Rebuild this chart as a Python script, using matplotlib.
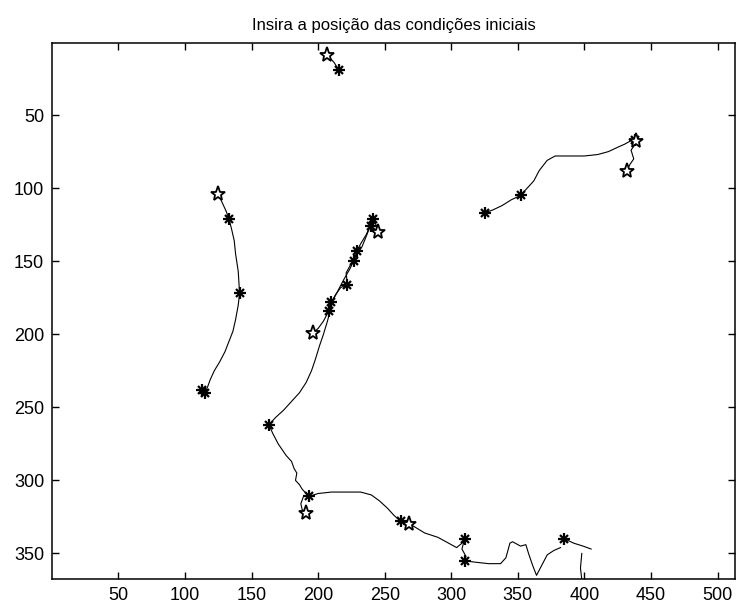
import matplotlib.pyplot as plt

# trajectories traced on the 512x368 frame (x = column, y = row)
top_x = [207, 209, 212, 214, 216]
top_y = [9, 11, 14, 17, 19]

right_x = [325, 331, 338, 345, 352, 357, 362, 366, 372, 378, 390, 400, 410,
           418, 425, 430, 434, 437, 441, 438, 435, 437, 434, 432]
right_y = [117, 115, 112, 108, 105, 100, 95, 88, 81, 78, 78, 78, 77,
           75, 72, 70, 68, 66, 67, 70, 74, 80, 84, 88]

left_x = [125, 128, 131, 133, 135, 137, 138, 140, 141, 140, 138, 136, 133,
          130, 126, 122, 119, 117, 115, 113]
left_y = [104, 110, 116, 121, 128, 136, 145, 157, 172, 180, 190, 198, 205,
          212, 219, 225, 231, 236, 240, 238]

upper_x = [196, 200, 204, 208, 210, 213, 217, 222, 221, 224, 227, 229, 232,
           236, 239, 240, 241, 243, 245]
upper_y = [199, 196, 191, 184, 178, 173, 168, 166, 158, 153, 150, 143, 138,
           132, 126, 122, 119, 124, 130]

lower_x = [240, 237, 233, 228, 224, 219, 215, 211, 209, 207, 204, 201, 198,
           195, 191, 186, 180, 174, 168, 163, 166, 170, 176, 180, 182, 184,
           183, 186, 188, 193, 189, 187, 188, 191]
lower_y = [124, 131, 140, 147, 155, 163, 170, 177, 184, 191, 200, 208, 217,
           225, 233, 240, 246, 252, 257, 262, 268, 275, 283, 287, 292, 295,
           300, 303, 306, 311, 311, 316, 320, 322]

bottom_x = [193, 200, 210, 220, 232, 240, 246, 252, 257, 262, 266, 268, 271,
            280, 290, 298, 304, 308, 310, 308, 311, 310, 318, 328, 337, 341,
            344, 346, 352, 356, 358, 361, 364, 368, 372, 377, 382]
bottom_y = [311, 309, 308, 308, 308, 310, 314, 319, 324, 328, 330, 327, 331,
            336, 339, 343, 346, 343, 340, 347, 352, 355, 356, 357, 357, 353,
            343, 342, 345, 344, 350, 358, 365, 358, 351, 348, 346]

tail_x = [385, 392, 399, 405]
tail_y = [340, 343, 345, 347]
drop_x = [398, 397, 398]
drop_y = [350, 360, 368]

# asterisks mark intermediate / final states, pentagrams the starting points
ast_x = [216, 325, 352, 438, 133, 141, 115, 113, 208, 210, 222, 227, 229,
         240, 241, 163, 193, 262, 310, 310, 385]
ast_y = [19, 117, 105, 67, 121, 172, 240, 238, 184, 178, 166, 150, 143,
         126, 121, 262, 311, 328, 340, 355, 340]
pent_x = [207, 432, 439, 125, 196, 245, 191, 268]
pent_y = [9, 88, 68, 104, 199, 130, 322, 330]

fig = plt.figure(figsize=(7.37, 6.08), dpi=100)
ax = fig.add_axes([0.0712, 0.0477, 0.926, 0.882])

paths = [(top_x, top_y), (right_x, right_y), (left_x, left_y),
         (upper_x, upper_y), (lower_x, lower_y), (bottom_x, bottom_y),
         (tail_x, tail_y), (drop_x, drop_y)]
for px, py in paths:
    ax.plot(px, py, color='black', lw=0.8)

ax.plot(ast_x, ast_y, ls='none', marker='+', ms=8.5, mew=1.6, color='black')
ax.plot(ast_x, ast_y, ls='none', marker='x', ms=6, mew=1.6, color='black')
ax.plot(pent_x, pent_y, ls='none', marker='*', ms=11, mew=1.3,
        mfc='white', mec='black')

ax.set_xlim(0.5, 513)
ax.set_ylim(367.5, 0.5)
ax.set_xticks(range(50, 501, 50))
ax.set_yticks(range(50, 351, 50))
ax.tick_params(direction='in', length=5, top=True, right=True,
               labelsize=13, pad=6, width=1)
for lab in ax.get_xticklabels() + ax.get_yticklabels():
    lab.set_family('Liberation Sans')
for s in ax.spines.values():
    s.set_linewidth(1.1)

ax.set_title('Insira a posição das condições iniciais',
             family='Liberation Sans', fontsize=12, pad=9)

fig.savefig('out.png', dpi=100)
